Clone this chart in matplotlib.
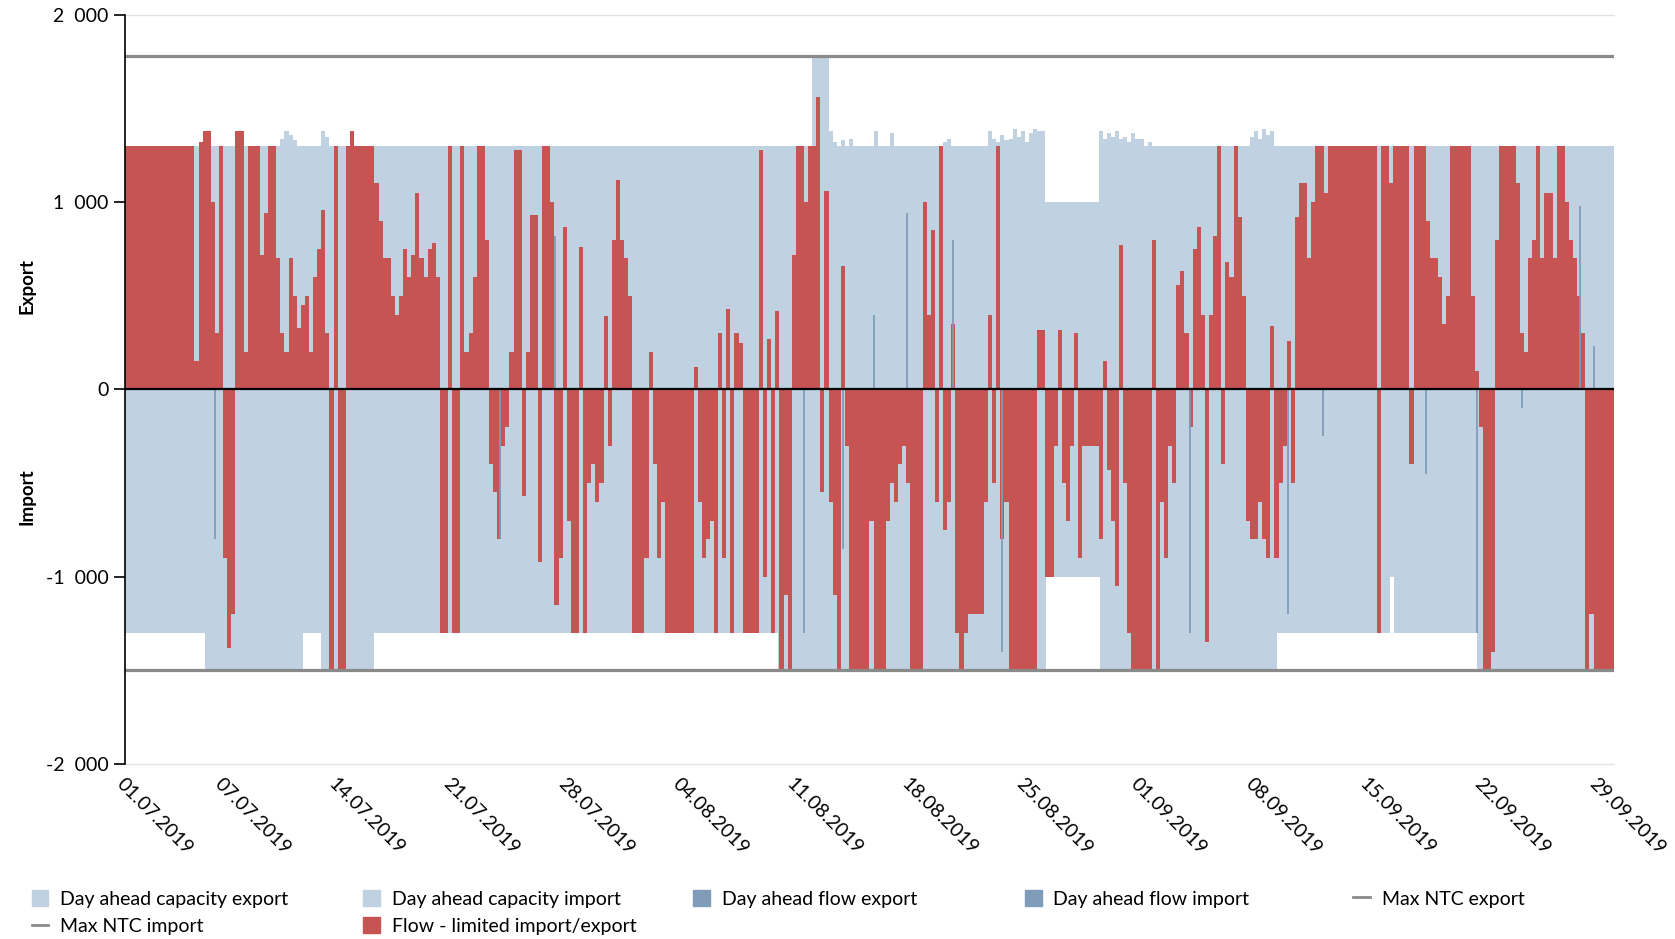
import numpy as np
import matplotlib.pyplot as plt
from matplotlib.patches import Patch
from matplotlib.lines import Line2D

plt.rcParams['font.family'] = ['Lato', 'DejaVu Sans']

# time axis: days since 01.07.2019 00:00, flows in 6-hour blocks (4 per day)
tick_days = [0, 6, 13, 20, 27, 34, 41, 48, 55, 62, 69, 76, 83, 90]
tick_labels = ['01.07.2019', '07.07.2019', '14.07.2019', '21.07.2019', '28.07.2019',
               '04.08.2019', '11.08.2019', '18.08.2019', '25.08.2019', '01.09.2019',
               '08.09.2019', '15.09.2019', '22.09.2019', '29.09.2019']
n_days = 91

# day ahead capacity export (step changes: start day, MW)
exp_cap_days = [0, 4.5, 4.75, 5.25, 6.75, 7.25, 9.5, 9.75, 10.0, 10.25, 10.5, 12.0, 12.25, 12.5,
                13.75, 14.0, 42.0, 43.0, 43.25, 43.5, 43.75, 44.0, 44.25, 44.5, 45.75, 46.0,
                46.75, 47.0, 50.0, 50.25, 50.5, 52.75, 53.0, 53.25, 53.5, 53.75, 54.0, 54.25,
                54.5, 54.75, 55.0, 55.25, 55.5, 55.75, 56.25, 59.5, 59.75, 60.0, 60.25, 60.5,
                60.75, 61.0, 61.25, 61.5, 61.75, 62.0, 62.25, 62.5, 62.75, 68.75, 69.0, 69.25,
                69.5, 69.75, 70.0, 70.25]
exp_cap_vals = [1300, 1320, 1380, 1300, 1380, 1300, 1340, 1380, 1360, 1330, 1300, 1380, 1350, 1300,
                1380, 1300, 1780, 1380, 1320, 1300, 1330, 1300, 1340, 1300, 1380, 1300,
                1370, 1300, 1320, 1340, 1300, 1380, 1340, 1320, 1360, 1330, 1340, 1390,
                1350, 1380, 1320, 1370, 1390, 1380, 1000, 1380, 1340, 1370, 1350, 1380,
                1340, 1350, 1320, 1370, 1340, 1340, 1300, 1320, 1300, 1350, 1380, 1340,
                1390, 1360, 1380, 1300]

# day ahead capacity import
imp_cap_days = [0, 4.9, 10.9, 12.0, 15.2, 39.9, 56.3, 59.6, 70.4, 77.3, 77.55, 82.6]
imp_cap_vals = [-1300, -1500, -1300, -1500, -1300, -1500, -1000, -1500, -1300, -1000, -1300, -1500]

ntc_export = 1780
ntc_import = -1500

# flow - limited import/export, one row per day
flow = [
    [1300, 1300, 1300, 1300], [1300, 1300, 1300, 1300], [1300, 1300, 1300, 1300],
    [1300, 1300, 1300, 1300], [1300, 150, 1320, 1380], [1380, 1000, 300, 1300],
    [-900, -1380, -1200, 1380], [1380, 200, 1300, 1300], [1300, 720, 940, 1300],
    [1300, 700, 300, 200], [700, 500, 330, 450], [500, 200, 600, 750],
    [960, 300, -1500, 1300], [-1500, -1500, 1300, 1380], [1300, 1300, 1300, 1300],
    [1300, 1100, 900, 700], [700, 500, 400, 500], [750, 600, 720, 1050],
    [700, 600, 750, 780], [600, -1300, -1300, 1300], [-1300, -1300, 1300, 200],
    [300, 600, 1300, 1300], [800, -400, -550, -800], [-300, -200, 200, 1280],
    [1280, -570, 200, 930], [930, -920, 1300, 1300], [1000, -1150, -900, 870],
    [-700, -1300, -1300, 760], [-1300, -500, -400, -600], [-500, 390, -300, 800],
    [1120, 800, 700, 500], [-1300, -1300, -1300, -900], [200, -400, -900, -600],
    [-1300, -1300, -1300, -1300], [-1300, -1300, -1300, 120], [-600, -900, -800, -700],
    [-1300, 300, -900, 430], [-1300, 300, 250, -1300], [-1300, -1300, -1300, 1280],
    [-1000, 270, -1300, 420], [-1500, -1100, -1500, 720], [1300, 1300, 1000, 1300],
    [1300, 1560, -550, 1060], [-600, -1100, -1500, 660], [-300, -1500, -1500, -1500],
    [-1500, -1500, -700, -1500], [-1500, -1500, -700, -500], [-600, -400, -300, -500],
    [-1500, -1500, -1500, 1000], [400, 850, -600, 1300], [-750, -600, 350, -1300],
    [-1500, -1300, -1200, -1200], [-1200, -1200, -600, 400], [-500, 1300, -800, -600],
    [-1500, -1500, -1500, -1500], [-1500, -1500, -1500, 320], [320, -1000, -1000, -300],
    [320, -500, -700, -300], [300, -900, -300, -300], [-300, -300, -800, 150],
    [-430, -700, -1050, 770], [-500, -1300, -1500, -1500], [-1500, -1500, -1500, 800],
    [-1500, -600, -900, -300], [-500, 560, 630, 300], [-200, 750, 870, 400],
    [-1350, 400, 820, 1300], [-400, 680, 600, 1300], [920, 500, -700, -800],
    [-800, -600, -800, -900], [340, -900, -500, -300], [260, -500, 920, 1100],
    [1100, 700, 1000, 1300], [1300, 1050, 1300, 1300], [1300, 1300, 1300, 1300],
    [1300, 1300, 1300, 1300], [1300, 1300, -1300, 1300], [1300, 1100, 1300, 1300],
    [1300, 1300, -400, 1300], [1300, 1300, 900, 700], [700, 600, 350, 500],
    [1300, 1300, 1300, 1300], [1300, 500, 100, -200], [-1500, -1500, -1400, 800],
    [1300, 1300, 1300, 1300], [1100, 300, 200, 700], [800, 1300, 700, 1050],
    [1050, 700, 1300, 1300], [1000, 800, 700, 500], [300, -1500, -1200, -1500],
    [-1500, -1500, -1500, -1500],
]

# day ahead flow, where it shows beside the limited flow
da_flow_days = [5.5, 22.9, 26.3, 41.5, 43.9, 45.8, 47.8, 50.6, 53.6, 65.1, 71.1, 73.2,
                79.5, 82.6, 85.4, 88.9, 89.8]
da_flow_vals = [-800, -800, 820, -1300, -850, 400, 940, 800, -1400, -1300, -1200, -250,
                -450, -1300, -100, 980, 230]

light = '#c0d2e2'
flow_blue = '#7f9cb8'
red = '#c65452'
grey = '#8a8a8a'

flow = np.array(flow).ravel()
t = np.arange(len(flow)) * 0.25

fig = plt.figure(figsize=(16.75, 9.39), dpi=100)
ax = fig.add_axes([0.0746, 0.1864, 0.889, 0.7977])

ex_x = np.append(exp_cap_days, n_days)
ex_y = np.append(exp_cap_vals, exp_cap_vals[-1])
ax.fill_between(ex_x, 0, ex_y, step='post', color=light, lw=0)
im_x = np.append(imp_cap_days, n_days)
im_y = np.append(imp_cap_vals, imp_cap_vals[-1])
ax.fill_between(im_x, 0, im_y, step='post', color=light, lw=0)

ax.vlines(da_flow_days, 0, da_flow_vals, color=flow_blue, lw=1.3)
ax.bar(t, flow, width=0.25, align='edge', color=red, lw=0)

ax.axhline(ntc_export, color=grey, lw=2.3)
ax.axhline(ntc_import, color=grey, lw=2.3)
ax.axhline(0, color='black', lw=1.6)
ax.axhline(2000, color='#e2e2e2', lw=1, clip_on=False)
ax.axhline(-2000, color='#e2e2e2', lw=1, clip_on=False)

ax.set_xlim(0, n_days)
ax.set_ylim(-2000, 2000)
for s in ['top', 'right', 'bottom']:
    ax.spines[s].set_visible(False)
ax.spines['left'].set_linewidth(1.2)

yt = [-2000, -1000, 0, 1000, 2000]
ax.set_yticks(yt, [f'{v:,}'.replace(',', '  ') for v in yt])
ax.tick_params(axis='y', length=8, width=1.2, labelsize=14, pad=4)
ax.set_xticks(tick_days, tick_labels, rotation=-45, ha='left', va='top', rotation_mode='anchor')
ax.tick_params(axis='x', length=0, labelsize=14, pad=8)

fig.text(0.016, ax.transData.transform((0, 550))[1] / fig.bbox.height, 'Export',
         rotation=90, ha='center', va='center', fontsize=13.5, fontweight='bold')
fig.text(0.016, ax.transData.transform((0, -570))[1] / fig.bbox.height, 'Import',
         rotation=90, ha='center', va='center', fontsize=13.5, fontweight='bold')

# legend, five columns filled row by row
columns = [
    ([Patch(color=light), Line2D([], [], color=grey, lw=2)],
     ['Day ahead capacity export', 'Max NTC import']),
    ([Patch(color=light), Patch(color=red)],
     ['Day ahead capacity import', 'Flow - limited import/export']),
    ([Patch(color=flow_blue)], ['Day ahead flow export']),
    ([Patch(color=flow_blue)], ['Day ahead flow import']),
    ([Line2D([], [], color=grey, lw=2)], ['Max NTC export']),
]
col_x = [0.019, 0.217, 0.414, 0.612, 0.808]
for x, (h, l) in zip(col_x, columns):
    leg = fig.legend(h, l, loc='upper left', bbox_to_anchor=(x, 0.052), frameon=False,
                     fontsize=14, handlelength=0.85, handleheight=0.85, handletextpad=0.6,
                     labelspacing=0.5, borderpad=0, borderaxespad=0)

fig.savefig('out.png', dpi=100)
